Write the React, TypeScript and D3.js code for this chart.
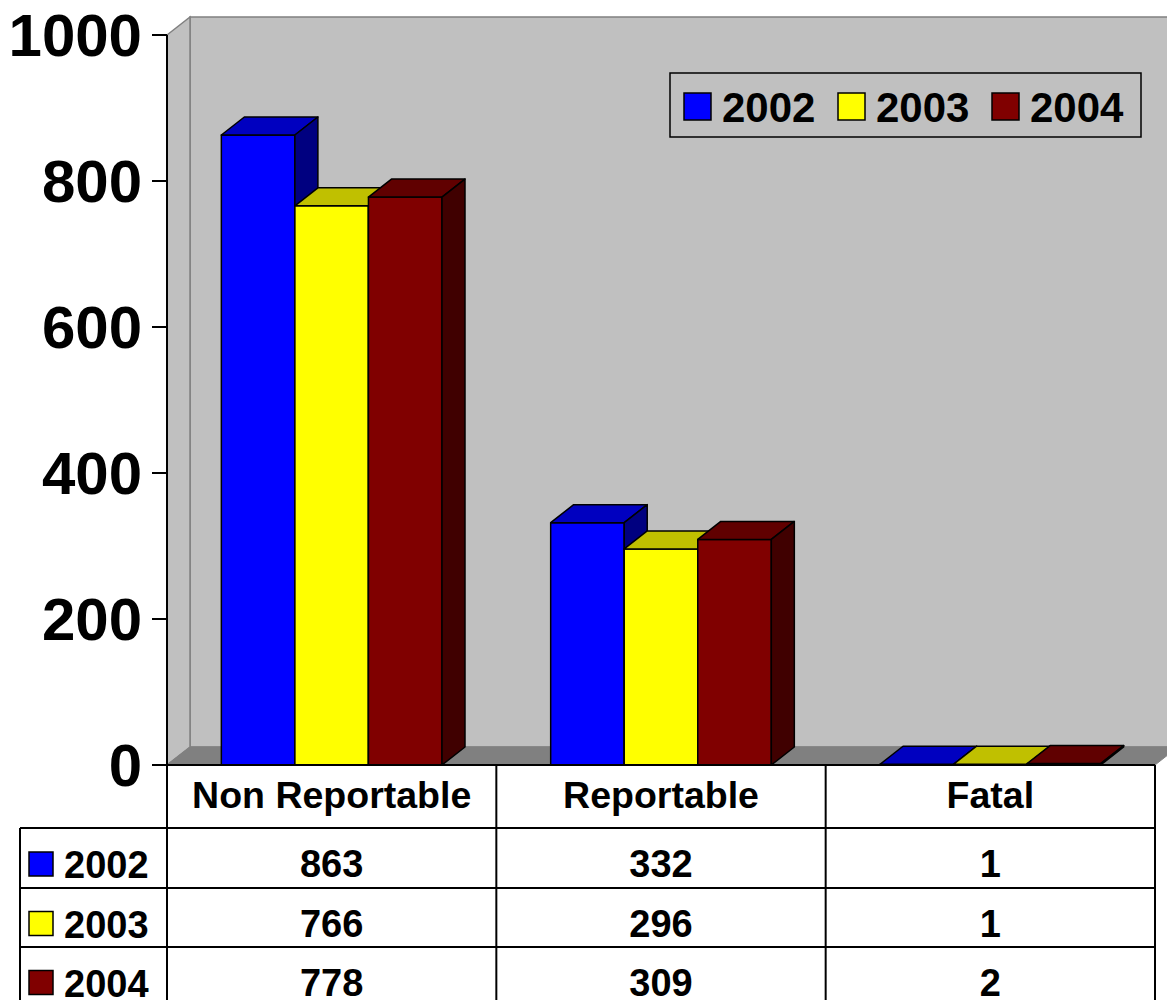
import React, { useEffect, useRef } from "react";
import * as d3 from "d3";

const categories = ["Non Reportable", "Reportable", "Fatal"];
const years = ["2002", "2003", "2004"];
const values2002 = [863, 332, 1];
const values2003 = [766, 296, 1];
const values2004 = [778, 309, 2];
const yTicks = [0, 200, 400, 600, 800, 1000];

const seriesValues = [values2002, values2003, values2004];
const frontColors = ["#0000ff", "#ffff00", "#800000"];
const topColors = ["#0000c0", "#c0c000", "#600000"];
const sideColors = ["#000080", "#808000", "#400000"];

const FONT = "'Liberation Sans', Arial, sans-serif";

const App = () => {
  const ref = useRef<SVGSVGElement>(null);

  useEffect(() => {
    const svg = d3.select(ref.current);
    svg.selectAll("*").remove();

    const left = 167;
    const right = 1155;
    const top = 35;
    const base = 765;
    const dx = 23;
    const dy = -18;

    const y = d3.scaleLinear().domain([0, 1000]).range([base, top]);
    const xCat = d3.scaleBand().domain(categories).range([left, right]).padding(0);
    const bw = xCat.bandwidth();
    const xSer = d3.scaleBand().domain(years).range([bw * 0.165, bw * 0.835]).padding(0);

    const poly = (pts: number[][]) => "M" + pts.map((p) => p.join(",")).join("L") + "Z";

    // walls
    svg.append("path")
      .attr("d", poly([[left + dx, top + dy], [1300, top + dy], [1300, base + dy], [left + dx, base + dy]]))
      .attr("fill", "#c0c0c0").attr("stroke", "#808080").attr("stroke-width", 1.5);
    svg.append("path")
      .attr("d", poly([[left, top], [left + dx, top + dy], [left + dx, base + dy], [left, base]]))
      .attr("fill", "#c0c0c0").attr("stroke", "#808080").attr("stroke-width", 1.5);
    svg.append("path")
      .attr("d", poly([[left, base], [right, base], [right + dx, base + dy], [left + dx, base + dy]]))
      .attr("fill", "#808080").attr("stroke", "#808080").attr("stroke-width", 1);

    // bars
    categories.forEach((cat, ci) => {
      years.forEach((yr, si) => {
        const v = seriesValues[si][ci];
        const x0 = (xCat(cat) as number) + (xSer(yr) as number);
        const w = xSer.bandwidth();
        const yt = y(v);
        const g = svg.append("g")
          .attr("stroke", "#000").attr("stroke-width", 1.5).attr("stroke-linejoin", "round");
        g.append("path")
          .attr("d", poly([[x0, yt], [x0 + w, yt], [x0 + w, base], [x0, base]]))
          .attr("fill", frontColors[si]);
        g.append("path")
          .attr("d", poly([[x0, yt], [x0 + w, yt], [x0 + w + dx, yt + dy], [x0 + dx, yt + dy]]))
          .attr("fill", topColors[si]);
        g.append("path")
          .attr("d", poly([[x0 + w, yt], [x0 + w + dx, yt + dy], [x0 + w + dx, base + dy], [x0 + w, base]]))
          .attr("fill", sideColors[si]);
      });
    });

    // y axis
    svg.append("line")
      .attr("x1", left).attr("x2", left).attr("y1", top).attr("y2", base)
      .attr("stroke", "#000").attr("stroke-width", 2);
    const ticks = svg.append("g");
    yTicks.forEach((t) => {
      ticks.append("line")
        .attr("x1", left - 15).attr("x2", left).attr("y1", y(t)).attr("y2", y(t))
        .attr("stroke", "#000").attr("stroke-width", 2);
      ticks.append("text")
        .attr("x", 142).attr("y", y(t) + 21)
        .attr("text-anchor", "end")
        .attr("font-family", FONT).attr("font-weight", "bold").attr("font-size", 60)
        .text(t);
    });

    // legend
    const lg = svg.append("g");
    lg.append("rect")
      .attr("x", 670).attr("y", 73).attr("width", 471).attr("height", 64)
      .attr("fill", "none").attr("stroke", "#000").attr("stroke-width", 1.5);
    years.forEach((yr, i) => {
      const lx = 684 + i * 154;
      lg.append("rect")
        .attr("x", lx).attr("y", 93).attr("width", 27).attr("height", 27)
        .attr("fill", frontColors[i]).attr("stroke", "#000").attr("stroke-width", 1.5);
      lg.append("text")
        .attr("x", lx + 38).attr("y", 122)
        .attr("font-family", FONT).attr("font-weight", "bold").attr("font-size", 42)
        .text(yr);
    });

    // data table
    const rowTops = [base, 828, 888, 947, 1006];
    const tb = svg.append("g");
    tb.append("rect")
      .attr("x", left).attr("y", base).attr("width", right - left).attr("height", 1100 - base)
      .attr("fill", "#fff");
    tb.append("rect")
      .attr("x", 20).attr("y", 828).attr("width", left - 20).attr("height", 300)
      .attr("fill", "#fff");
    const lineAttrs = (sel: any) => sel.attr("stroke", "#000").attr("stroke-width", 2);
    lineAttrs(tb.append("line").attr("x1", left).attr("x2", right).attr("y1", base).attr("y2", base));
    rowTops.slice(1).forEach((ry) => {
      lineAttrs(tb.append("line").attr("x1", 20).attr("x2", right).attr("y1", ry).attr("y2", ry));
    });
    lineAttrs(tb.append("line").attr("x1", 20).attr("x2", 20).attr("y1", 828).attr("y2", 1100));
    const colEdges = [left, ...categories.map((c) => (xCat(c) as number) + bw)];
    colEdges.forEach((cx) => {
      lineAttrs(tb.append("line").attr("x1", cx).attr("x2", cx).attr("y1", base).attr("y2", 1100));
    });

    categories.forEach((cat) => {
      tb.append("text")
        .attr("x", (xCat(cat) as number) + bw / 2).attr("y", 808)
        .attr("text-anchor", "middle")
        .attr("font-family", FONT).attr("font-weight", "bold").attr("font-size", 37.5)
        .text(cat);
    });

    years.forEach((yr, si) => {
      const rc = (rowTops[si + 1] + rowTops[si + 2]) / 2;
      tb.append("rect")
        .attr("x", 29).attr("y", rc - 6).attr("width", 24).attr("height", 24)
        .attr("fill", frontColors[si]).attr("stroke", "#000").attr("stroke-width", 1.5);
      tb.append("text")
        .attr("x", 64).attr("y", rc + 20)
        .attr("font-family", FONT).attr("font-weight", "bold").attr("font-size", 38)
        .text(yr);
      categories.forEach((cat, ci) => {
        tb.append("text")
          .attr("x", (xCat(cat) as number) + bw / 2).attr("y", rc + 19)
          .attr("text-anchor", "middle")
          .attr("font-family", FONT).attr("font-weight", "bold").attr("font-size", 38)
          .text(seriesValues[si][ci]);
      });
    });
  }, []);

  return (
    <svg
      ref={ref}
      width={1167}
      height={1000}
      style={{ position: "absolute", left: 0, top: 0, background: "#fff" }}
    ></svg>
  );
};

export default App;
